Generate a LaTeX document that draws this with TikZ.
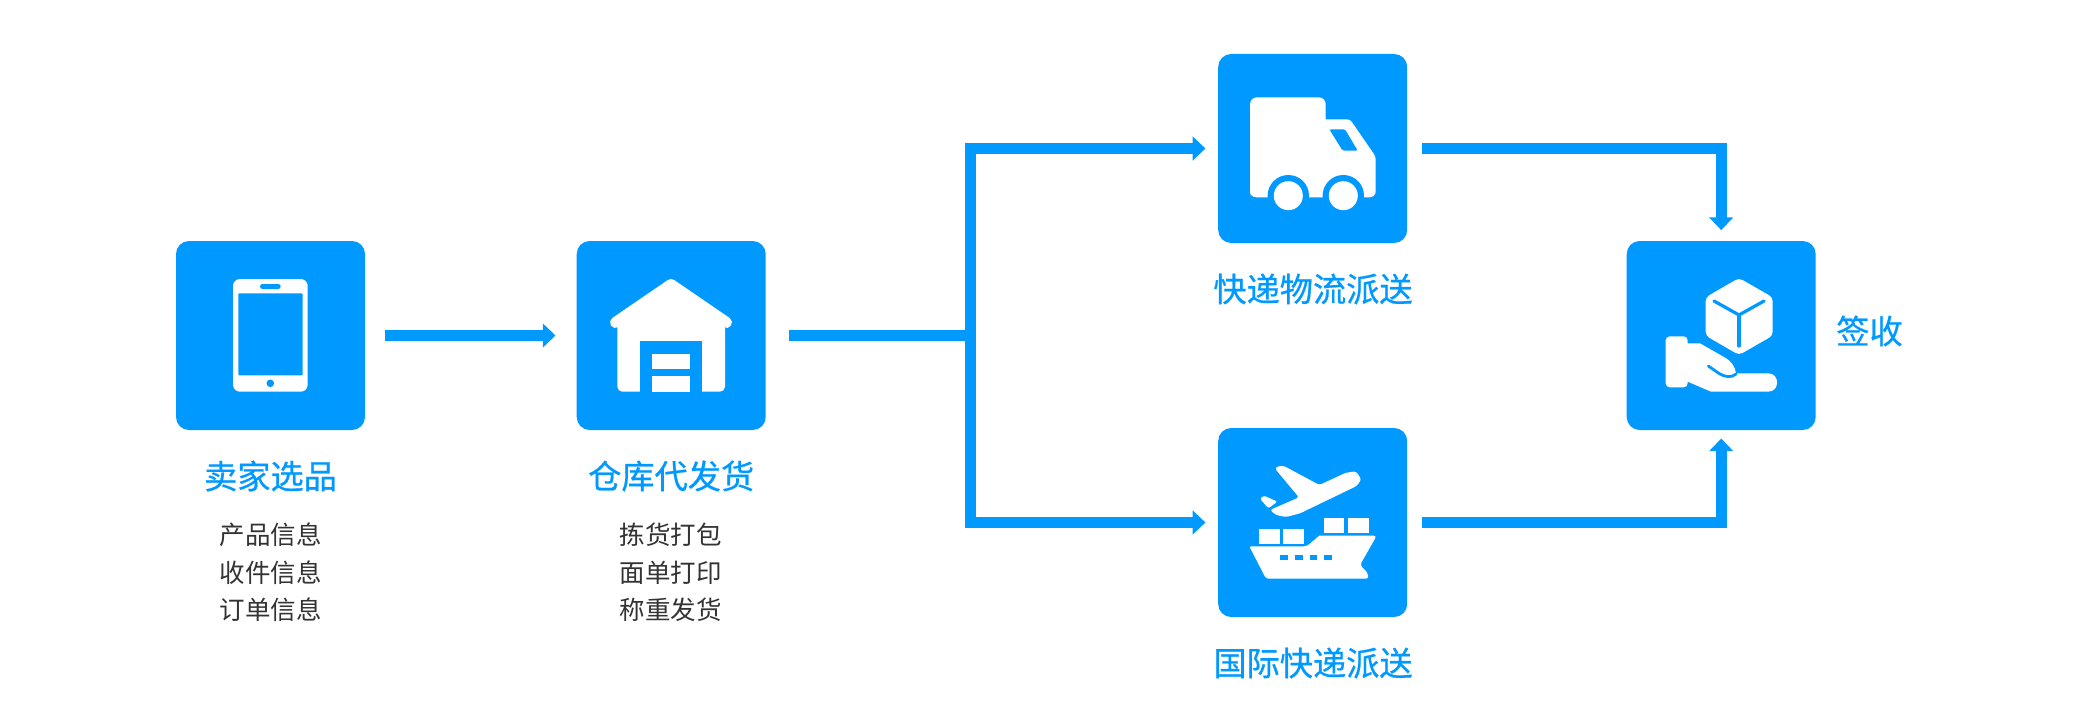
\documentclass[tikz,border=0pt]{standalone}
\usepackage{fontspec}
\setmainfont{Noto Sans CJK SC}
\newfontfamily\medf[FakeBold=0.6]{Noto Sans CJK SC}
\usetikzlibrary{arrows.meta}
\definecolor{bl}{HTML}{0099FF}
\definecolor{tx}{HTML}{333333}
\tikzset{
  iconbox/.style={fill=bl,draw=none,rounded corners=13pt,minimum width=189pt,minimum height=189pt,inner sep=0pt},
  flow/.style={draw=bl,line width=11.2pt,line cap=butt,miter limit=10,-{Triangle[width=23.4pt,length=12.7pt]}},
  plainflow/.style={draw=bl,line width=11.2pt,line cap=butt},
  title/.style={text=bl,font=\fontsize{33.2}{34}\medf,inner sep=0pt},
  sub/.style={text=tx,font=\fontsize{25.5}{26}\selectfont,inner sep=0pt},
  ic/.style={fill=white,draw=none},
  ib/.style={fill=bl,draw=none}
}
\begin{document}
\begin{tikzpicture}[x=1pt,y=-1pt]
\useasboundingbox (0,0) rectangle (2079,722);
\fill[white] (0,0) rectangle (2079,722);
% boxes
\node[iconbox] (a) at (270.5,335.5) {};
\node[iconbox] (b) at (671.2,335.5) {};
\node[iconbox] (c) at (1312.7,148.5) {};
\node[iconbox] (d) at (1312.7,522.5) {};
\node[iconbox] (e) at (1721.2,335.5) {};
\coordinate (fork) at (970.8,335.5);
% connectors
\draw[flow,shorten <=20pt,shorten >=21pt] (a) -- (b);
\draw[plainflow,shorten <=23pt] (b.east) -- (fork);
\draw[flow,shorten >=12.6pt] (fork) |- (c.west);
\draw[flow,shorten >=12.6pt] (fork) |- (d.west);
\draw[flow,shorten <=14.5pt,shorten >=10.7pt] (c.east) -| (e.north);
\draw[flow,shorten <=14.5pt,shorten >=8.3pt] (d.east) -| (e.south);
% phone
\fill[ic,rounded corners=7pt] (233,279) rectangle (307.7,391.7);
\fill[ib,rounded corners=1pt] (238.3,293.3) rectangle (302.7,375.3);
\fill[ib,rounded corners=2.5pt] (260,284) rectangle (280.7,289);
\fill[ib] (270.3,383.3) circle (3.8);
% warehouse
\draw[white,line width=11pt,line cap=round,line join=round] (615.5,322.5) -- (671,284.5) -- (726.5,322.5);
\fill[ic,rounded corners=5pt] (617.3,322) -- (617.3,391.7) -- (725,391.7) -- (725,322) [sharp corners] -- (671,285) -- cycle;
\fill[ib] (640,341) rectangle (702.3,392.5);
\fill[ic] (652,353.7) rectangle (690,369);
\fill[ic] (652,376) rectangle (690,391.7);
% truck
\fill[ic] (1250,197.3) [rounded corners=7pt] -- (1250,97.3) -- (1325.7,97.3) [sharp corners] -- (1325.7,119.3) [rounded corners=3pt] -- (1350,119.3) -- (1375.7,156.7) [rounded corners=6pt] -- (1375.7,197.3) -- (1250,197.3) -- (1250,180) [sharp corners] -- cycle;
\fill[ib,rounded corners=1.5pt] (1329.3,129.3) -- (1345,129.3) -- (1357.7,150.7) -- (1342.7,150.7) -- cycle;
\fill[ib] (1288.3,195.7) circle (20.7);
\fill[ib] (1343.3,195.7) circle (20.7);
\fill[ic] (1288.3,195.7) circle (14.5);
\fill[ic] (1343.3,195.7) circle (14.5);
% plane and ship
\begin{scope}[shift={(1200,420)},x=0.33333pt,y=-0.33333pt]
\fill[ic,rounded corners=2.5pt] (225,146) -- (235,138) -- (252,138) -- (358,195) -- (438,158) -- (468,154) -- (484,178) -- (470,198) -- (300,280) -- (258,291) -- (228,285) -- (210,270) -- (297,232) -- cycle;
\fill[ic,rounded corners=1.5pt] (180,236) -- (192,227) -- (232,245) -- (205,265) -- cycle;
\fill[ic] (177,328) rectangle (240,372);
\fill[ic] (250,328) rectangle (313,372);
\fill[ic] (371,294) rectangle (433,338);
\fill[ic] (444,294) rectangle (507,338);
\fill[ic,rounded corners=3pt] (148,379) -- (320,379) [sharp corners] -- (358,347) [rounded corners=3pt] -- (530,347) -- (480,435) [rounded corners=2pt] -- (504,460) -- (504,476) -- (198,476) -- cycle;
\fill[ib] (241,406) rectangle (265,421);
\fill[ib] (285,406) rectangle (308,421);
\fill[ib] (329,406) rectangle (352,421);
\fill[ib] (373,406) rectangle (396,421);
\end{scope}
% box in hand
\begin{scope}[shift={(1610,230)},x=0.33333pt,y=-0.33333pt]
\fill[ic,rounded corners=4pt] (387,144) -- (488,202) -- (488,317) -- (387,375) -- (287,317) -- (287,202) -- cycle;
\draw[bl,line width=3.2pt,line cap=round,line join=round] (312,213) -- (387,255) -- (462,213);
\draw[bl,line width=3.2pt,line cap=round] (387,255) -- (387,348);
\fill[ic,rounded corners=4pt] (167,319) rectangle (233,472);
\fill[ic] (225,340) -- (270,340) -- (345,383) .. controls (365,395) and (375,410) .. (378,430) -- (475,430) .. controls (510,430) and (510,485) .. (475,485) -- (303,485) -- (233,455) -- (225,455) -- cycle;
\draw[bl,line width=2.8pt,line cap=round] (295,408) -- (328,431) .. controls (345,441) and (365,444) .. (378,432);
\end{scope}
% labels
\node[title] (t1) at (270.5,476) {卖家选品};
\node[title] (t2) at (671.2,476) {仓库代发货};
\node[title] (t3) at (1313,289) {快递物流派送};
\node[title] (t4) at (1313,663) {国际快递派送};
\node[title] (t5) at (1869.5,331) {签收};
\node[sub] (s1) at (270.5,535) {产品信息};
\node[sub] (s2) at (270.5,572.5) {收件信息};
\node[sub] (s3) at (270.5,610) {订单信息};
\node[sub] (s4) at (670.5,535) {拣货打包};
\node[sub] (s5) at (670.5,572.5) {面单打印};
\node[sub] (s6) at (670.5,610) {称重发货};
\end{tikzpicture}
\end{document}
